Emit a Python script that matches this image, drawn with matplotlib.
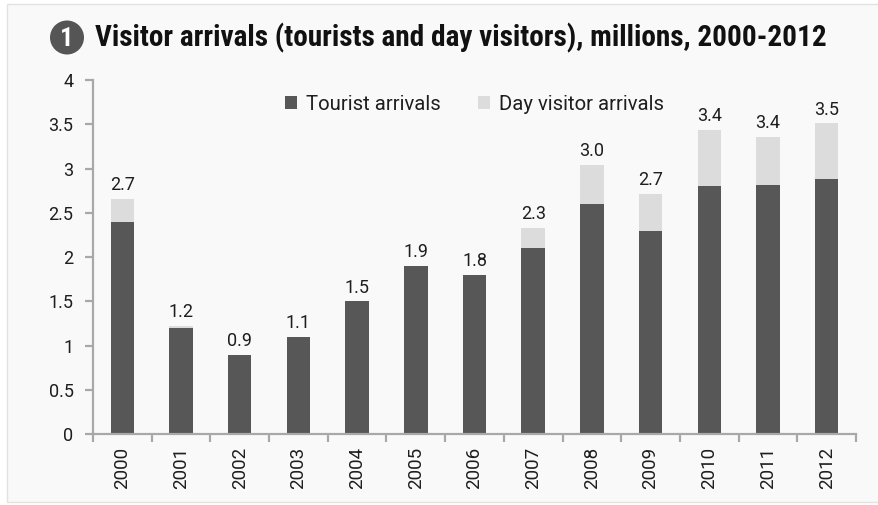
import matplotlib.pyplot as plt
from matplotlib import font_manager
from matplotlib.patches import Rectangle, Ellipse

years = ["2000", "2001", "2002", "2003", "2004", "2005", "2006",
         "2007", "2008", "2009", "2010", "2011", "2012"]
tourists = [2.40, 1.20, 0.90, 1.10, 1.50, 1.90, 1.80,
            2.10, 2.60, 2.30, 2.80, 2.82, 2.88]
day_visitors = [0.26, 0.02, 0.00, 0.00, 0.00, 0.00, 0.00,
                0.23, 0.44, 0.41, 0.64, 0.54, 0.63]
y_ticks = [0, 0.5, 1, 1.5, 2, 2.5, 3, 3.5, 4]

title = "Visitor arrivals (tourists and day visitors), millions, 2000-2012"

dark = "#575757"
light = "#dcdcdc"
axis_grey = "#a8a8a8"
text_col = "#1e1e1e"

plt.rcParams["font.family"] = ["Roboto", "DejaVu Sans"]

# narrowest bold face we can find for the heading
installed = {f.name for f in font_manager.fontManager.ttflist}
title_font = "DejaVu Sans"
for name in ["Roboto Condensed", "Liberation Sans Narrow", "Open Sans Condensed",
             "Noto Sans Condensed", "DejaVu Sans Condensed"]:
    if name in installed:
        title_font = name
        break

fig = plt.figure(figsize=(8.79, 5.05), dpi=100, facecolor="white")

# light panel behind everything
panel = Rectangle((7 / 879, 3 / 505), 1.0, 498 / 505, transform=fig.transFigure,
                  facecolor="#f9f9f9", edgecolor="#e2e2e2", linewidth=1.0, zorder=-10)
fig.add_artist(panel)

ax = fig.add_axes([93 / 879, 70.7 / 505, 763 / 879, 354.3 / 505])
ax.set_facecolor("none")

x = list(range(len(years)))
totals = [t + d for t, d in zip(tourists, day_visitors)]

ax.bar(x, tourists, width=0.4, color=dark, label="Tourist arrivals", zorder=2)
ax.bar(x, day_visitors, width=0.4, bottom=tourists, color=light,
       label="Day visitor arrivals", zorder=2)

for xi, total in zip(x, totals):
    ax.annotate(f"{total:.1f}", (xi, total), xytext=(0, 3.5), textcoords="offset points",
                ha="center", va="bottom", fontsize=13, color=text_col)

ax.set_xlim(-0.5, len(years) - 0.5)
ax.set_ylim(0, 4)
ax.set_yticks(y_ticks)
ax.set_yticklabels([f"{v:g}" for v in y_ticks])
ax.set_xticks(x)
ax.set_xticklabels(years, rotation=90)
ax.set_xticks([i - 0.5 for i in range(len(years) + 1)], minor=True)

for side in ["top", "right"]:
    ax.spines[side].set_visible(False)
for side in ["left", "bottom"]:
    ax.spines[side].set_color(axis_grey)
    ax.spines[side].set_linewidth(1.6)

ax.tick_params(axis="y", length=6, width=1.6, color=axis_grey, pad=8,
               labelsize=13, labelcolor=text_col)
ax.tick_params(axis="x", which="major", length=0, pad=9,
               labelsize=13.5, labelcolor=text_col)
ax.tick_params(axis="x", which="minor", length=6, width=1.6, color=axis_grey)

leg = ax.legend(loc="center", bbox_to_anchor=(0.5, 0.932), ncol=2, frameon=False,
                fontsize=14.6, handlelength=0.6, handleheight=0.6, handletextpad=0.45,
                columnspacing=1.8, labelcolor=text_col)

# numbered badge and heading
badge = Ellipse((67 / 879, 1 - 37.5 / 505), 34 / 879, 34 / 505,
                transform=fig.transFigure, facecolor="#555555", edgecolor="none")
fig.add_artist(badge)
fig.text(67 / 879, 1 - 38.5 / 505, "1", ha="center", va="center", color="white",
         fontsize=19, fontweight="bold", family=[title_font, "DejaVu Sans"])
heading = fig.text(95 / 879, 1 - 38 / 505, title, ha="left", va="center", color="#111111",
                   fontsize=19.5, fontweight="bold", family=[title_font, "DejaVu Sans"])

# size the heading so it spans its line
renderer = fig.canvas.get_renderer()
width = heading.get_window_extent(renderer).width
heading.set_fontsize(19.5 * 735 / width)

fig.savefig("out.png", dpi=100, facecolor=fig.get_facecolor())
